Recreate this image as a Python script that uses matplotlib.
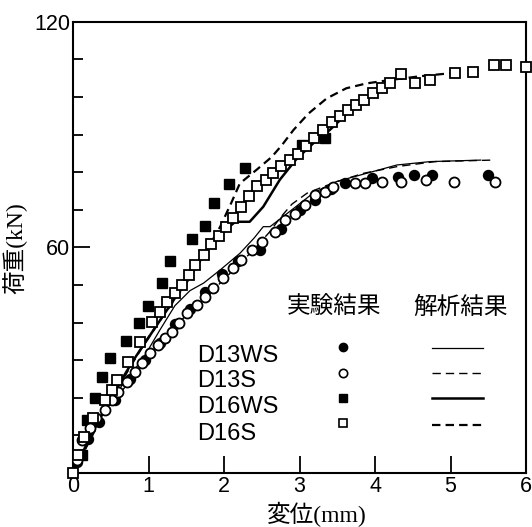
import matplotlib
matplotlib.use('Agg')
import matplotlib.pyplot as plt
from matplotlib.ticker import MultipleLocator

# experimental results (mm, kN)
d13ws_x = [0.05, 0.2, 0.35, 0.55, 0.75, 0.95, 1.15, 1.35, 1.55, 1.75, 1.97, 2.18, 2.48, 2.75, 3.0, 3.21, 3.42, 3.60, 3.96, 4.31, 4.51, 4.75, 5.50]
d13ws_y = [3, 9, 13.5, 19.5, 25, 30, 34.5, 39.5, 43.5, 48, 53, 56.5, 59.3, 65, 70, 72.6, 75.5, 77.0, 78.4, 78.8, 79.2, 79.2, 79.2]

d13s_x = [0.05, 0.115, 0.225, 0.31, 0.42, 0.51, 0.60, 0.71, 0.82, 0.91, 1.02, 1.13, 1.22, 1.31, 1.40, 1.51, 1.64, 1.75, 1.86, 1.99, 2.12, 2.23, 2.37, 2.50, 2.68, 2.81, 2.94, 3.07, 3.21, 3.34, 3.45, 3.74, 3.87, 4.09, 4.35, 4.68, 5.04, 5.59]
d13s_y = [3.5, 8.8, 11.9, 14.5, 16.8, 19.4, 21.6, 24.3, 26.9, 29.2, 31.8, 34.0, 35.8, 37.6, 39.8, 42.5, 44.7, 46.9, 49.1, 51.8, 54.4, 56.6, 59.3, 61.5, 64.2, 67.3, 69.0, 71.3, 73.9, 74.8, 76.1, 77.0, 77.0, 77.5, 77.5, 77.9, 77.5, 77.5]

d16ws_x = [0.12, 0.18, 0.29, 0.39, 0.49, 0.70, 0.88, 0.99, 1.18, 1.28, 1.58, 1.75, 1.87, 2.06, 2.28, 3.03, 3.34]
d16ws_y = [4.8, 14.1, 19.9, 25.6, 30.7, 35.1, 39.8, 44.4, 50.6, 56.4, 62.1, 65.7, 71.7, 76.8, 81.0, 87.2, 89.0]

d16s_x = [0, 0.07, 0.14, 0.27, 0.42, 0.51, 0.58, 0.73, 0.89, 1.04, 1.15, 1.24, 1.35, 1.44, 1.53, 1.62, 1.73, 1.83, 1.93, 2.02,
          2.12, 2.23, 2.33, 2.44, 2.55, 2.65, 2.76, 2.87, 2.98, 3.08, 3.19, 3.31, 3.43, 3.54, 3.64, 3.75, 3.86, 3.98, 4.09, 4.20,
          4.35, 4.53, 4.73, 5.06, 5.30, 5.57, 5.74, 6.0]
d16s_y = [0, 4.8, 9.7, 14.5, 19.4, 22.1, 24.7, 29.6, 34.9, 40.2, 42.9, 45.5, 47.8, 50.0, 52.6, 55.3, 58.0, 60.8, 63.0, 65.3,
          67.8, 70.8, 73.6, 76.4, 77.8, 79.8, 81.7, 83.2, 84.8, 87.0, 89.0, 91.2, 93.3, 95.0, 96.5, 97.8, 99.1, 101.0, 102.5, 103.8,
          106.0, 103.6, 104.5, 106.3, 106.7, 108.5, 108.5, 108.0]

# analysis results
d13ws_ax = [0, 0.3, 0.6, 0.93, 1.15, 1.35, 1.55, 1.73, 1.95, 2.21, 2.40, 2.52, 2.61, 2.9, 3.18, 3.49, 3.80, 4.29, 4.73, 5.40]
d13ws_ay = [0, 12.5, 22, 30.5, 38, 44.5, 48.5, 50.5, 54, 58.4, 62.5, 65.5, 65.5, 70, 74.4, 77.5, 79.2, 81.9, 82.8, 83.2]

d13s_ax = [0, 0.3, 0.6, 0.9, 1.2, 1.5, 1.8, 2.1, 2.4, 2.6, 2.75, 2.9, 3.1, 3.3, 3.5, 3.85, 4.3, 4.8, 5.55]
d13s_ay = [0, 11.5, 20.5, 28.5, 35.5, 42, 47.5, 53.5, 59.5, 64, 68, 71.5, 74.4, 76, 77.5, 79.7, 81.5, 82.8, 83.2]

d16ws_ax = [0, 0.2, 0.5, 0.8, 1.1, 1.4, 1.68, 1.95, 2.15, 2.34, 2.52, 2.74, 2.96, 3.2, 3.4, 3.6]
d16ws_ay = [0, 8.5, 20, 30, 39, 48, 56.6, 63.5, 66.8, 66.8, 70.8, 78, 83.5, 88, 91.2, 95]

d16s_ax = [0, 0.3, 0.6, 0.9, 1.2, 1.5, 1.75, 1.95, 2.1, 2.21, 2.43, 2.63, 2.76, 2.92, 3.12, 3.36, 3.62, 3.89, 4.2, 4.6, 5.0]
d16s_ay = [0, 12, 23, 33, 42, 50.5, 58.5, 65.5, 72, 77, 80.6, 84, 87, 91.2, 95.6, 99.6, 102.3, 103.6, 104.5, 105.5, 106.3]

names = ['D13WS', 'D13S', 'D16WS', 'D16S']

cjk = 'Noto Sans CJK JP'
num_font = ['Liberation Sans Narrow', 'Liberation Sans']

fig = plt.figure(figsize=(5.32, 5.27), dpi=100)
ax = fig.add_axes([73 / 532, 54 / 527, 453 / 532, 451.3 / 527])

ax.plot(d13ws_ax, d13ws_ay, color='k', lw=0.9, zorder=2)
ax.plot(d13s_ax, d13s_ay, color='k', lw=1.0, ls=(0, (6, 3.6)), zorder=2)
ax.plot(d16ws_ax, d16ws_ay, color='k', lw=1.8, zorder=2)
ax.plot(d16s_ax, d16s_ay, color='k', lw=1.6, ls=(0, (3.8, 2.3)), zorder=2)

ax.plot(d13ws_x, d13ws_y, 'o', ms=7.2, mfc='k', mec='k', zorder=3)
ax.plot(d16ws_x, d16ws_y, 's', ms=7.2, mfc='k', mec='k', zorder=3)
ax.plot(d13s_x, d13s_y, 'o', ms=7.2, mfc='white', mec='k', mew=1.3, zorder=4)
ax.plot(d16s_x, d16s_y, 's', ms=7.2, mfc='white', mec='k', mew=1.3, zorder=4, clip_on=False)

ax.set_xlim(0, 6)
ax.set_ylim(0, 120)
ax.set_xticks(range(7))
ax.set_yticks([60, 120])
ax.yaxis.set_minor_locator(MultipleLocator(10))
ax.tick_params(axis='both', which='major', direction='in', length=12, width=1.3, labelsize=15.5, pad=2)
ax.tick_params(axis='y', which='minor', direction='in', length=7, width=1.3)
for lab in ax.get_xticklabels() + ax.get_yticklabels():
    lab.set_family(num_font)
for s in ax.spines.values():
    s.set_linewidth(1.5)

# legend drawn inside the axes
ax.text(2.83, 44.0, '実験結果', family=cjk, fontsize=17, va='center', ha='left')
ax.text(4.50, 44.0, '解析結果', family=cjk, fontsize=17, va='center', ha='left')
base = [29.6, 23.0, 15.9, 8.8]
mark_y = [33.6, 26.5, 19.9, 13.2]
line_y = [33.2, 26.5, 19.9, 12.8]
for i, n in enumerate(names):
    ax.text(1.64, base[i], n, family='Liberation Sans', fontsize=17, va='baseline', ha='left')
ax.plot([3.58], [mark_y[0]], 'o', ms=6, mfc='k', mec='k')
ax.plot([3.58], [mark_y[1]], 'o', ms=6, mfc='white', mec='k', mew=1.2)
ax.plot([3.58], [mark_y[2]], 's', ms=6, mfc='k', mec='k')
ax.plot([3.58], [mark_y[3]], 's', ms=6, mfc='white', mec='k', mew=1.2)
ax.plot([4.75, 5.43], [line_y[0]] * 2, color='k', lw=0.9)
ax.plot([4.75, 5.43], [line_y[1]] * 2, color='k', lw=1.0, ls=(0, (6, 3.6)))
ax.plot([4.75, 5.43], [line_y[2]] * 2, color='k', lw=1.8)
ax.plot([4.75, 5.43], [line_y[3]] * 2, color='k', lw=1.6, ls=(0, (3.8, 2.3)))

fig.text(15 / 532, 1 - 248 / 527, '荷重(kN)', family=['Liberation Serif', cjk], fontsize=17,
         rotation=90, ha='center', va='center')
fig.text(317 / 532, 13 / 527, '変位(mm)', family=['Liberation Serif', cjk], fontsize=17,
         ha='center', va='center')

fig.savefig('out.png', dpi=100)
